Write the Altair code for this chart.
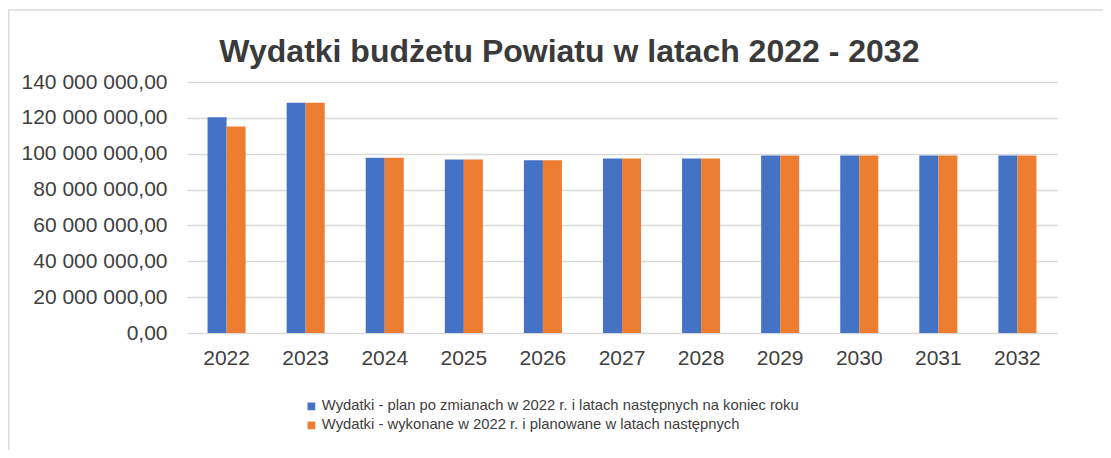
import altair as alt
import pandas as pd

years = ["2022", "2023", "2024", "2025", "2026", "2027", "2028", "2029", "2030", "2031", "2032"]
plan = [120.4e6, 128.4e6, 97.8e6, 96.8e6, 96.3e6, 97.4e6, 97.4e6, 99.0e6, 99.0e6, 99.0e6, 99.0e6]
wykonane = [115.2e6, 128.4e6, 97.8e6, 96.8e6, 96.3e6, 97.4e6, 97.4e6, 99.0e6, 99.0e6, 99.0e6, 99.0e6]
series = [
    "Wydatki - plan po zmianach w 2022 r. i latach następnych na koniec roku",
    "Wydatki - wykonane w 2022 r. i planowane w latach następnych",
]
colors = ["#4472C4", "#ED7D31"]
title_text = "Wydatki budżetu Powiatu w latach 2022 - 2032"
y_ticks = [0, 20e6, 40e6, 60e6, 80e6, 100e6, 120e6, 140e6]

rows = []
for i, y in enumerate(years):
    rows.append({"rok": y, "seria": series[0], "wartosc": plan[i], "ord": 0})
    rows.append({"rok": y, "seria": series[1], "wartosc": wykonane[i], "ord": 1})
df = pd.DataFrame(rows)

W, H = 870, 251
PL, PT, PR, PB = 179, 74, 46, 117

label_expr = "replace(replace(format(datum.value, ',.2f'), regexp(',', 'g'), ' '), '.', ',')"

bars = alt.Chart(df).mark_bar().encode(
    x=alt.X("rok:N", sort=years, title=None,
            scale=alt.Scale(paddingInner=0.519, paddingOuter=0.26),
            axis=alt.Axis(labelAngle=0, labelFontSize=21, labelColor="#404040",
                          ticks=False, domain=False, labelPadding=14)),
    xOffset=alt.XOffset("seria:N", sort=series, scale=alt.Scale(paddingInner=0, paddingOuter=0)),
    y=alt.Y("wartosc:Q", title=None,
            scale=alt.Scale(domain=[0, 140e6], nice=False),
            axis=alt.Axis(values=y_ticks, labelExpr=label_expr, labelFontSize=21,
                          labelColor="#404040", ticks=False, domain=False,
                          labelPadding=20, gridColor="#d9d9d9", gridWidth=1.4)),
    color=alt.Color("seria:N", sort=series,
                    scale=alt.Scale(domain=series, range=colors),
                    legend=alt.Legend(title=None, orient="none", legendX=117, legendY=317,
                                      direction="vertical", symbolType="square",
                                      symbolSize=60, symbolStrokeWidth=0,
                                      labelFontSize=14.8, labelColor="#404040",
                                      labelOffset=3, rowPadding=3, labelLimit=800)),
)

one = pd.DataFrame({"t": [title_text]})
title_mark = alt.Chart(one).mark_text(
    align="center", baseline="alphabetic", fontSize=32, fontWeight="bold", color="#3a3a3a"
).encode(text="t:N", x=alt.value(382.4), y=alt.value(-20))

left_border = alt.Chart(one).mark_rule(color="#d9d9d9", strokeWidth=1.5).encode(
    x=alt.value(-178.3), y=alt.value(-72), y2=alt.value(H + PB)
)
top_border = alt.Chart(one).mark_rule(color="#d9d9d9", strokeWidth=1.5).encode(
    x=alt.value(-179), x2=alt.value(W + PR), y=alt.value(-72)
)

chart = alt.layer(left_border, top_border, bars, title_mark).properties(
    width=W, height=H,
    padding={"left": PL, "top": PT, "right": PR, "bottom": PB},
    autosize=alt.AutoSizeParams(type="none"),
).configure(font="Liberation Sans").configure_view(stroke=None)

chart.save("out.html", embed_options={"renderer": "svg", "actions": False})
